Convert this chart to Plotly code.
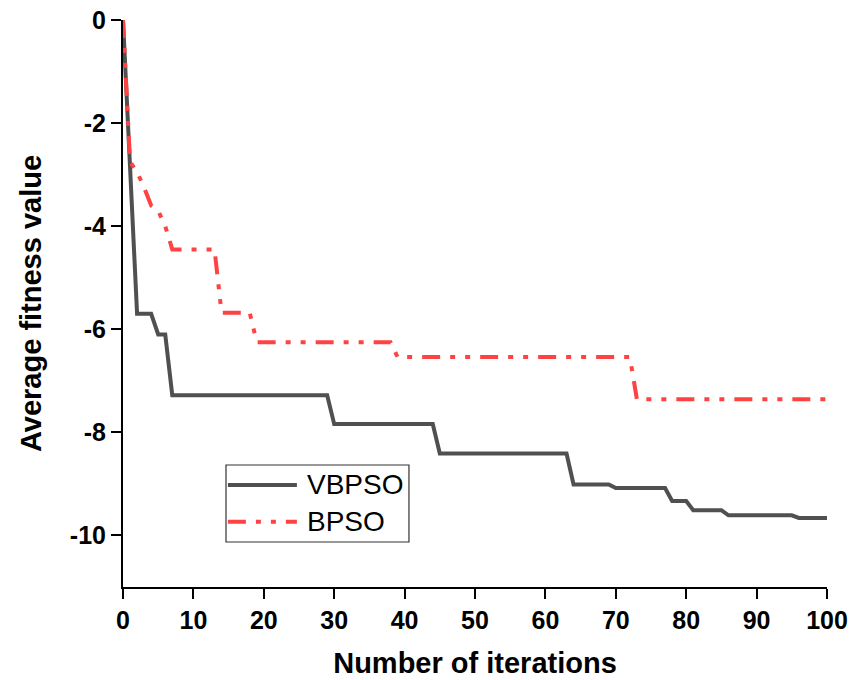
import plotly.graph_objects as go

# ---- data ----
vbpso_iter = [0, 1, 2, 4, 5, 6, 7, 29, 30, 44, 45, 63, 64, 69, 70, 77, 78, 80, 81, 85, 86, 95, 96, 100]
vbpso_fit = [0, -2.87, -5.70, -5.70, -6.10, -6.10, -7.28, -7.28, -7.84, -7.84, -8.41, -8.41,
             -9.01, -9.01, -9.08, -9.08, -9.33, -9.33, -9.51, -9.51, -9.61, -9.61, -9.66, -9.66]

bpso_iter = [0, 1, 2, 3, 4, 5, 6, 7, 13, 14, 18, 19, 38, 39, 72, 73, 100]
bpso_fit = [0, -2.75, -2.95, -3.25, -3.60, -3.70, -4.00, -4.45, -4.45, -5.68, -5.68,
            -6.25, -6.25, -6.54, -6.54, -7.36, -7.36]

x_ticks = [0, 10, 20, 30, 40, 50, 60, 70, 80, 90, 100]
y_ticks = [0, -2, -4, -6, -8, -10]
series_names = ["VBPSO", "BPSO"]

# ---- styling ----
GRAY = "#505050"
RED = "#FF4242"
DASH = "18px,10px,5px,10px,5px,10px"
FONT = "Liberation Sans, Arial, sans-serif"

fig = go.Figure()
fig.add_trace(go.Scatter(x=vbpso_iter, y=vbpso_fit, mode="lines", name=series_names[0],
                         line=dict(color=GRAY, width=4), showlegend=False))
fig.add_trace(go.Scatter(x=bpso_iter, y=bpso_fit, mode="lines", name=series_names[1],
                         line=dict(color=RED, width=4, dash=DASH), showlegend=False))

# custom legend (box, line samples, labels) in paper coordinates
lx0, lx1, ly0, ly1 = 0.1463, 0.4062, 0.0794, 0.2152
fig.add_shape(type="rect", xref="paper", yref="paper", x0=lx0, x1=lx1, y0=ly0, y1=ly1,
              line=dict(color="#333333", width=1.2), fillcolor="white", layer="above")
rows = [0.1799, 0.1152]
styles = [dict(color=GRAY, width=4), dict(color=RED, width=4, dash=DASH)]
for name, yy, st in zip(series_names, rows, styles):
    fig.add_shape(type="line", xref="paper", yref="paper", x0=0.149, x1=0.247, y0=yy, y1=yy,
                  line=st, layer="above")
    fig.add_annotation(xref="paper", yref="paper", x=0.2585, y=yy, text=name, showarrow=False,
                       xanchor="left", yanchor="middle",
                       font=dict(family=FONT, size=28, color="black"))

fig.update_layout(
    width=853, height=680,
    margin=dict(l=123, r=26, t=20, b=93, autoexpand=False),
    paper_bgcolor="white", plot_bgcolor="white",
    showlegend=False,
)
fig.update_xaxes(
    range=[0, 100], tickvals=x_ticks, ticktext=[str(v) for v in x_ticks],
    automargin=False, ticklabeloverflow="allow",
    showgrid=False, zeroline=False, showline=True, linecolor="black", linewidth=2,
    ticks="outside", ticklen=10, tickwidth=2, tickcolor="black",
    tickfont=dict(family=FONT, size=25, color="black", weight="bold"),
    title=dict(text="Number of iterations", standoff=20,
               font=dict(family=FONT, size=29, color="black", weight="bold")),
)
fig.update_yaxes(
    range=[-11, 0], tickvals=y_ticks, ticktext=[str(v) for v in y_ticks],
    automargin=False, ticklabeloverflow="allow",
    showgrid=False, zeroline=False, showline=True, linecolor="black", linewidth=2,
    ticks="outside", ticklen=10, tickwidth=2, tickcolor="black",
    tickfont=dict(family=FONT, size=25, color="black", weight="bold"),
    title=dict(text="Average fitness value", standoff=20,
               font=dict(family=FONT, size=29, color="black", weight="bold")),
)

fig.write_html(
    "out.html",
    config={"displayModeBar": False},
    post_script="document.body.style.margin='0';document.body.style.overflow='hidden';",
)
